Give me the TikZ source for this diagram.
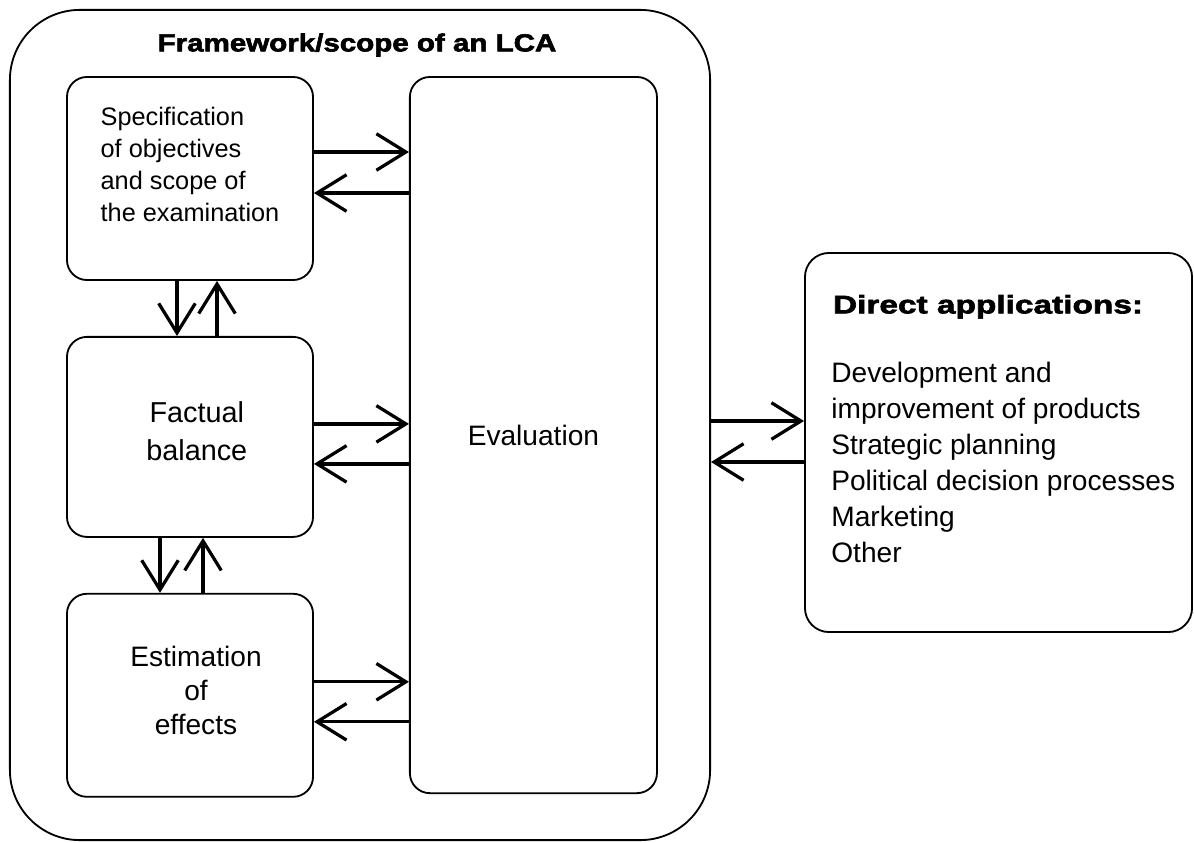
\documentclass[tikz,border=0pt]{standalone}
\usepackage{fontspec}
\setmainfont{Liberation Sans}
\newfontfamily\headfont[FakeStretch=1.2,FakeBold=2.5]{Liberation Sans Bold}
\newfontfamily\appsfont[FakeStretch=1.32,FakeBold=2.5]{Liberation Sans Bold}
\usetikzlibrary{positioning,arrows.meta}

\tikzset{
  box/.style={draw, line width=1.3pt, rounded corners=0.5cm},
  stage/.style={box, minimum width=6.15cm, minimum height=5.075cm},
  txt/.style={align=center, font=\fontsize{20}{25}\selectfont},
  flow/.style={line width=2.3pt, -{Straight Barb[length=21pt,width=26pt]}},
}

\begin{document}
\begin{tikzpicture}[x=0.025cm, y=-0.025cm, node distance=1.375cm]
  \useasboundingbox (0,0) rectangle (1194,842);

  % LCA frame
  \node[box, rounded corners=1.75cm, minimum width=17.5cm, minimum height=20.75cm] (frame) at (360,425) {};
  \node[font=\headfont\fontsize{17.5}{20}\selectfont] (title) at (357,45) {Framework/scope of an LCA};

  % the three stages
  \node[stage] (spec) at (190,178.5) {};
  \node[stage, minimum height=5cm, below=of spec] (fact) {};
  \node[stage, below=of fact] (est) {};
  \node[box, minimum width=6.175cm, minimum height=17.9cm,
        right=2.375cm of spec.north east, anchor=north west] (eval) {};

  \node[txt, align=left, font=\fontsize{18}{22.7}\selectfont] (spectext) at ([yshift=0.36cm]spec.center)
    {Specification\\of objectives\\and scope of\\the examination};
  \node[txt, font=\fontsize{20.5}{27}\selectfont] (facttext) at ([xshift=0.17cm, yshift=0.15cm]fact.center) {Factual\\balance};
  \node[txt, font=\fontsize{20}{24}\selectfont] (esttext) at ([xshift=0.15cm, yshift=0.12cm]est.center) {Estimation\\of\\effects};
  \node[txt] (evaltext) at (eval.center) {Evaluation};

  % applications
  \node[box, rounded corners=0.6cm, minimum width=9.675cm, minimum height=9.475cm] (apps) at (998.5,442.5) {};
  \node[anchor=north west, font=\appsfont\fontsize{18}{20}\selectfont] (appshead)
    at ([xshift=0.6cm, yshift=-0.95cm]apps.north west) {Direct applications:};
  \node[anchor=north west, align=left, inner sep=0pt, font=\fontsize{20}{25.5}\selectfont] (appslist)
    at ([xshift=0.675cm, yshift=-2.75cm]apps.north west)
    {Development and\\improvement of products\\Strategic planning\\Political decision processes\\Marketing\\Other};

  % stage <-> evaluation
  \foreach \s/\a/\b in {spec/0.6625/-0.3625, fact/0.325/-0.675, est/0.3375/-0.6625} {
    \draw[flow] ([yshift=\a cm]\s.east) -- ([yshift=\a cm]\s.east -| eval.west);
    \draw[flow] ([yshift=\b cm]\s.east -| eval.west) -- ([yshift=\b cm]\s.east);
  }

  % stage <-> stage
  \draw[flow] ([xshift=-0.325cm]spec.south) -- ([xshift=-0.325cm]spec.south |- fact.north);
  \draw[flow] ([xshift=0.675cm]spec.south |- fact.north) -- ([xshift=0.675cm]spec.south);
  \draw[flow] ([xshift=-0.75cm]fact.south) -- ([xshift=-0.75cm]fact.south |- est.north);
  \draw[flow] ([xshift=0.325cm]fact.south |- est.north) -- ([xshift=0.325cm]fact.south);

  % frame <-> applications
  \draw[flow] ([yshift=0.1cm]frame.east) -- ([yshift=0.1cm]frame.east -| apps.west);
  \draw[flow] ([yshift=-0.925cm]frame.east -| apps.west) -- ([yshift=-0.925cm]frame.east);
\end{tikzpicture}
\end{document}
